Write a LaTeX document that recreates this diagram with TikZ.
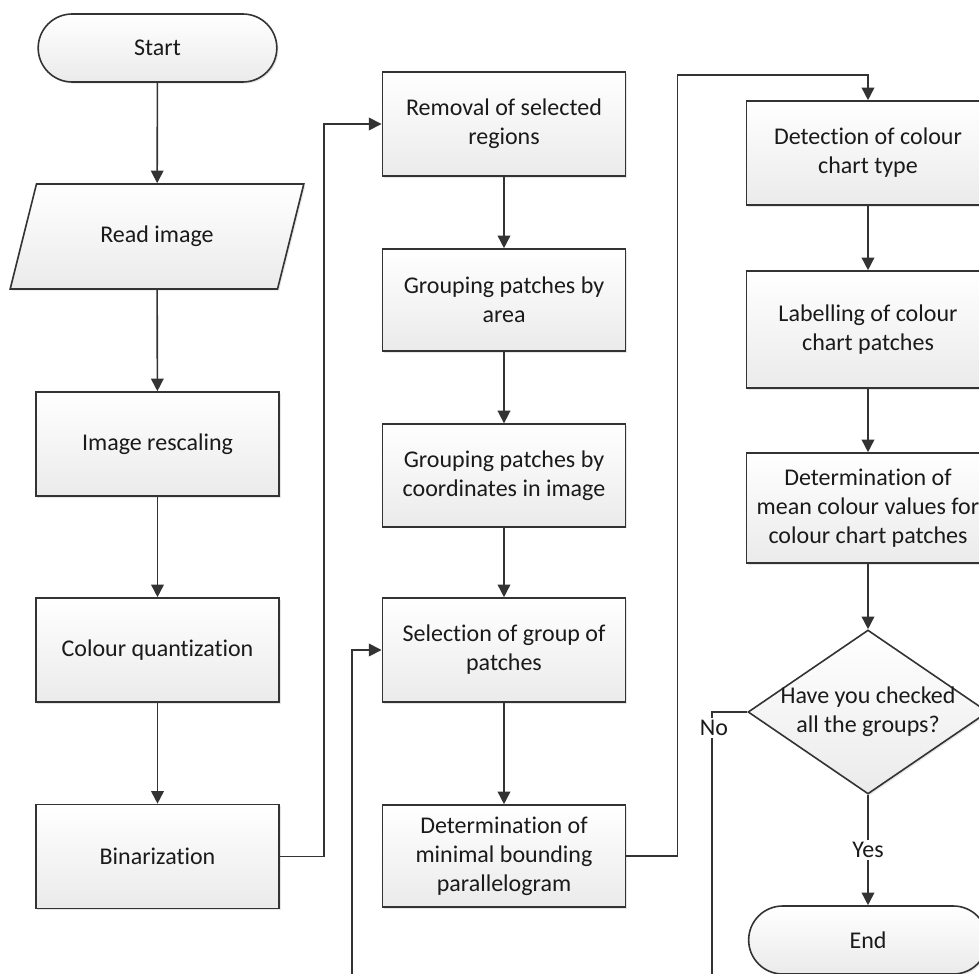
\documentclass[tikz,border=0pt]{standalone}
\usepackage{fontspec}
\setmainfont{Carlito}[Ligatures={NoCommon}]
\usetikzlibrary{shapes.geometric,shapes.misc,arrows.meta,shadows}
\definecolor{linec}{HTML}{333333}
\definecolor{textc}{HTML}{1A1A1A}
\begin{document}
\begin{tikzpicture}[x=0.75pt,y=-0.75pt,
  every node/.style={text=textc, font=\fontsize{18}{21.75}\selectfont, align=center},
  boxbase/.style={draw=linec, line width=1.2pt, top color=white, bottom color=gray!16,
    drop shadow={shadow xshift=1.2pt, shadow yshift=-1.2pt, opacity=0.2}},
  procbox/.style={boxbase, rectangle, minimum width=182.5pt, minimum height=78pt, inner sep=2pt},
  termbox/.style={boxbase, rounded rectangle, minimum width=183pt, minimum height=51pt, inner sep=2pt},
  arr/.style={draw=linec, line width=1.2pt, -{Triangle[length=9.5pt,width=9.5pt]}},
  plain/.style={draw=linec, line width=1.2pt},
  lbl/.style={fill=white, inner sep=1.5pt}]
\useasboundingbox (0,0) rectangle (979,974);
\clip (0,0) rectangle (979,974);

% column 1
\node[termbox] (start) at (157.5,48) {Start};
\node[boxbase, trapezium, trapezium left angle=63.66, trapezium right angle=116.34,
  trapezium stretches=true, minimum width=220.5pt, minimum height=78.75pt, inner sep=2pt]
  (read) at (157,236.5) {Read image};
\node[procbox] (resc) at (157.5,444) {Image rescaling};
\node[procbox] (quant) at (157.5,650) {Colour quantization};
\node[procbox] (bin) at (157.5,856.5) {Binarization};

% column 2
\node[procbox] (rem) at (504,124) {Removal of selected\\regions};
\node[procbox, minimum height=76.5pt] (garea) at (504,300) {Grouping patches by\\area};
\node[procbox, minimum height=77pt] (gcoord) at (504,475.5) {Grouping patches by\\coordinates in image};
\node[procbox] (sel) at (504,650) {Selection of group of\\patches};
\node[procbox, minimum height=76.5pt] (dmin) at (504,856) {Determination of\\minimal bounding\\parallelogram};

% column 3
\node[procbox] (det) at (868,153) {Detection of colour\\chart type};
\node[procbox, minimum height=87.75pt] (lab) at (868,329.5) {Labelling of colour\\chart patches};
\node[procbox, minimum height=82.5pt] (mean) at (868,508) {Determination of\\mean colour values for\\colour chart patches};
\node[boxbase, diamond, minimum width=180pt, minimum height=123pt, inner sep=0pt,
  label={[align=center]center:Have you checked\\all the groups?}] (dec) at (868,712) {};
\node[termbox] (end) at (868,940) {End};

\coordinate (topturn) at (868,75);
\coordinate (nobot) at (712,990);
\coordinate (selbot) at (352,990);

% connectors column 1
\draw[arr] (start) -- (read);
\draw[arr] (read) -- (resc);
\draw[arr] (resc) -- (quant);
\draw[arr] (quant) -- (bin);
\draw[arr] (bin.east) -- ++(44,0) |- (rem.west);

% column 2
\draw[arr] (rem) -- (garea);
\draw[arr] (garea) -- (gcoord);
\draw[arr] (gcoord) -- (sel);
\draw[arr] (sel) -- (dmin);
\draw[arr] (dmin.east) -- ++(51,0) |- (topturn) -- (det.north);
\draw[arr] (selbot) |- (sel.west);

% column 3
\draw[arr] (det) -- (lab);
\draw[arr] (lab) -- (mean);
\draw[arr] (mean) -- (dec.north);
\draw[arr] (dec.south) -- node[lbl, pos=0.5] {Yes} (end.north);
\draw[plain] (dec.west) -| (nobot);
\node[lbl, inner sep=2pt] (nolbl) at (714,728) {No};
\end{tikzpicture}
\end{document}
